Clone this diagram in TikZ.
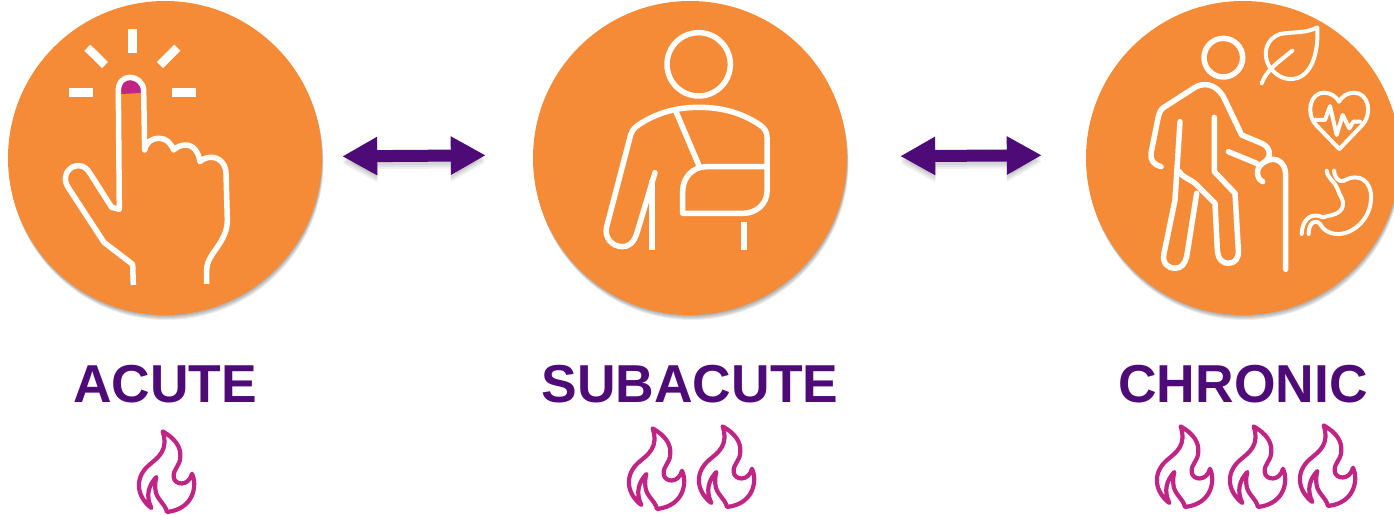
\documentclass[tikz,border=0pt]{standalone}
\usepackage{fontspec}
\setmainfont{Liberation Sans}
\usepackage{tikz}
\usetikzlibrary{arrows.meta}
\definecolor{discorange}{HTML}{F68B37}
\definecolor{deeppurple}{HTML}{4E0A77}
\definecolor{flamepink}{HTML}{C02585}
\tikzset{
	disc/.style={circle,fill=discorange,minimum size=314pt,inner sep=0pt},
	stage/.style={text=deeppurple,font=\bfseries\fontsize{53.4}{60}\selectfont,inner sep=0pt},
	icon/.style={white,line width=5.5pt,line cap=round,line join=round},
	thinicon/.style={white,line width=4pt,line cap=round,line join=round},
	ray/.style={white,line width=8.5pt},
	link/.style={deeppurple,line width=12pt,{Triangle[length=35pt,width=36pt]}-{Triangle[length=35pt,width=36pt]}},
	flame/.pic={
		\draw[flamepink,line width=4.2pt,line join=round,scale=1/3] (-13,-122) .. controls (25,-100) and (42,-75) .. (40,-45) .. controls (38,-15) and (18,-10) .. (20,15) .. controls (22,40) and (65,45) .. (75,5) .. controls (90,35) and (85,110) .. (0,120) .. controls (-5,95) and (-35,80) .. (-35,50) .. controls (-36,40) and (-35,25) .. (-32,15) .. controls (-55,40) and (-65,70) .. (-47,108) .. controls (-90,75) and (-100,20) .. (-55,-20) .. controls (-25,-45) and (5,-65) .. (-13,-122) -- cycle;
	}
}
\begin{document}
\begin{tikzpicture}[x=1pt,y=-1pt]
	\useasboundingbox (0,0) rectangle (1394,514);
	% discs
	\foreach \name/\cx in {acute/165,subacute/690,chronic/1243}{
		\foreach \d in {1,2,3,4,5}
			\fill[black,opacity=0.07] (\cx+0.3*\d,158+\d) circle (157);
		\node[disc] (\name) at (\cx,158) {};
	}
	% arrows
	\foreach \from/\to/\sa/\sb/\ya/\yb in {acute/subacute/20/47/1.5/3,subacute/chronic/53/44/1.5/3}{
		\foreach \d in {3,5,7}
			\draw[link,black,opacity=0.06,shorten <=\sa pt,shorten >=\sb pt] ([yshift=\ya pt-\d pt]\from.east) -- ([yshift=\yb pt-\d pt]\to.west);
		\draw[link,shorten <=\sa pt,shorten >=\sb pt] ([yshift=\ya pt]\from.east) -- ([yshift=\yb pt]\to.west);
	}
	% hand
	\begin{scope}[scale=1/3]
		\draw[ray] (397,87) -- (397,158);
		\draw[ray] (262,143) -- (315,195);
		\draw[ray] (532,143) -- (480,195);
		\draw[ray] (207,277) -- (280,277);
		\draw[ray] (516,277) -- (587,277);
		\fill[flamepink] (362,282) -- (362,265) .. controls (362,250) and (378,240) .. (392,240) .. controls (408,240) and (424,250) .. (424,265) -- (424,279) -- cycle;
		\draw[icon,line cap=butt] (400,855) -- (398,793) -- (312,727) -- (203,560) .. controls (185,530) and (205,497) .. (235,497) .. controls (252,497) and (262,507) .. (270,520) -- (335,622) -- (358,628) -- (355,272) .. controls (355,245) and (372,232) .. (390,232) .. controls (410,232) and (431,248) .. (431,272) -- (434,450) .. controls (440,425) and (455,415) .. (478,415) .. controls (498,415) and (512,428) .. (521,450) .. controls (530,440) and (545,435) .. (557,435) .. controls (580,435) and (595,455) .. (600,485) .. controls (610,475) and (622,472) .. (635,472) .. controls (660,472) and (678,495) .. (678,520) -- (682,660) .. controls (682,730) and (620,760) .. (620,810) -- (620,852);
	\end{scope}
	% sling
	\begin{scope}[shift={(530,0)},scale=1/3]
		\draw[icon] (506,193) circle (95);
		\draw[icon] (375,518) -- (322,695) .. controls (312,730) and (295,740) .. (278,740) .. controls (245,740) and (222,712) .. (230,680) -- (298,420) .. controls (303,395) and (310,385) .. (325,375) .. controls (380,338) and (440,322) .. (506,322) .. controls (575,322) and (635,338) .. (690,375) .. controls (705,385) and (711,397) .. (711,412) -- (711,575) .. controls (711,610) and (680,640) .. (640,640) -- (458,640) -- (458,575) .. controls (458,530) and (490,500) .. (530,500) -- (711,500);
		\draw[icon] (438,335) -- (507,497);
		\draw[icon,line cap=butt] (366,540) -- (366,750);
		\draw[icon,line cap=butt] (642,667) -- (642,750);
	\end{scope}
	% elder
	\begin{scope}[shift={(1080,0)},scale=1/3]
		\draw[icon] (430,173) circle (58);
		\draw[icon] (243,500) .. controls (222,495) and (210,480) .. (213,460) -- (235,350) .. controls (238,335) and (245,325) .. (255,320) -- (345,262) .. controls (385,240) and (420,265) .. (435,300) -- (485,405) -- (545,430) .. controls (572,442) and (575,470) .. (555,485) .. controls (535,497) and (530,510) .. (533,525) .. controls (535,535) and (540,542) .. (548,545);
		\draw[icon] (445,455) -- (530,490);
		\draw[icon] (555,485) .. controls (590,465) and (617,490) .. (617,525) -- (617,808);
		\draw[icon] (300,365) -- (285,600) -- (252,760) .. controls (245,790) and (265,805) .. (285,805) .. controls (305,805) and (315,790) .. (320,770) -- (350,580);
		\draw[icon] (298,515) .. controls (305,530) and (325,535) .. (345,550) -- (405,610) -- (412,750) .. controls (414,780) and (430,790) .. (445,790) .. controls (465,790) and (477,775) .. (475,750) -- (465,580) -- (403,515) -- (403,352);
		% leaf
		\draw[thinicon] (545,250) .. controls (560,210) and (590,190) .. (637,152);
		\draw[thinicon] (568,200) .. controls (545,160) and (560,115) .. (600,102) .. controls (640,95) and (680,100) .. (712,82) .. controls (715,150) and (700,215) .. (655,233) .. controls (620,245) and (590,230) .. (568,200);
		% heart
		\draw[thinicon] (778,447) -- (710,377) .. controls (675,340) and (690,278) .. (732,278) .. controls (752,278) and (769,290) .. (777,305) .. controls (785,290) and (802,278) .. (822,278) .. controls (865,278) and (880,340) .. (845,377) -- cycle;
		\draw[thinicon] (705,360) -- (735,360) -- (750,318) -- (770,405) -- (788,345) -- (808,385) -- (820,365) -- (840,365);
		% stomach
		\draw[thinicon] (740,512) .. controls (742,535) and (765,545) .. (772,565) .. controls (776,585) and (795,600) .. (788,620) .. controls (780,645) and (750,645) .. (728,652) .. controls (705,640) and (668,645) .. (665,702);
		\draw[thinicon] (762,512) .. controls (765,535) and (775,545) .. (790,543) .. controls (840,515) and (875,545) .. (873,595) .. controls (872,660) and (815,705) .. (770,702) .. controls (745,700) and (730,690) .. (720,672) .. controls (705,655) and (685,670) .. (686,702);
	\end{scope}
	% labels
	\node[stage] (acutelabel) at (165,384) {ACUTE};
	\node[stage] (subacutelabel) at (690,384) {SUBACUTE};
	\node[stage] (chroniclabel) at (1243,384) {CHRONIC};
	% flames
	\foreach \fx/\fy in {167/472,657/469,727/467,1185/467,1258/467,1328/466}
		\pic at (\fx,\fy) {flame};
\end{tikzpicture}
\end{document}
